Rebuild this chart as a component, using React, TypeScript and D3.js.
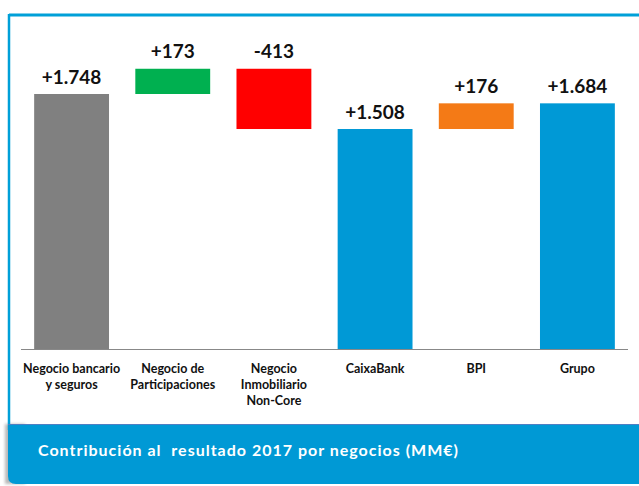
import React from "react";
import * as d3 from "d3";

const categories = [
  ["Negocio bancario", "y seguros"],
  ["Negocio de", "Participaciones"],
  ["Negocio", "Inmobiliario", "Non-Core"],
  ["CaixaBank"],
  ["BPI"],
  ["Grupo"],
];
const starts = [0, 1748, 1921, 0, 1508, 0];
const ends = [1748, 1921, 1508, 1508, 1684, 1684];
const valueLabels = ["+1.748", "+173", "-413", "+1.508", "+176", "+1.684"];
const colors = ["#808080", "#00B050", "#FF0000", "#0099D6", "#F47A16", "#0099D6"];
const footerTitle = "Contribución al  resultado 2017 por negocios (MM€)";

const W = 639;
const H = 486;
const FONT = "Lato, 'Open Sans', sans-serif";

export default function App() {
  const x = d3
    .scaleBand<number>()
    .domain(d3.range(categories.length))
    .range([21, 628])
    .paddingInner(0.26)
    .paddingOuter(0.13);
  const y = d3.scaleLinear().domain([0, 1748]).range([349, 94]);

  return (
    <div style={{ position: "absolute", left: 0, top: 0 }}>
      <svg width={W} height={H} style={{ display: "block" }}>
        <defs>
          <filter id="sh" x="-20%" y="-20%" width="140%" height="140%">
            <feGaussianBlur stdDeviation="1.5" />
          </filter>
        </defs>
        <rect width={W} height={H} fill="#ffffff" />
        {/* frame */}
        <rect x={5} y={424} width={20} height={60} fill="#b8b8b8" filter="url(#sh)" />
        <line x1={9} x2={W} y1={15} y2={15} stroke="#00A0D8" strokeWidth={3} />
        <line x1={9} x2={9} y1={14} y2={430} stroke="#00A0D8" strokeWidth={2.5} />
        <path
          d={`M8,424 H${W} V484 H16 Q8,484 8,476 Z`}
          fill="#0099D5"
        />
        <line x1={8} x2={W} y1={424.5} y2={424.5} stroke="#4F7FC3" strokeWidth={1} />
        <text
          x={38}
          y={456}
          fill="#ffffff"
          fontFamily={FONT}
          fontWeight={700}
          fontSize={16}
          letterSpacing={1}
          style={{ whiteSpace: "pre" }}
        >
          {footerTitle}
        </text>
        {/* bars */}
        {categories.map((c, i) => {
          const top = y(Math.max(starts[i], ends[i]));
          const bot = y(Math.min(starts[i], ends[i]));
          const cx = (x(i) as number) + x.bandwidth() / 2;
          return (
            <g key={i}>
              <rect x={x(i)} y={top} width={x.bandwidth()} height={bot - top} fill={colors[i]} />
              <text
                x={cx}
                y={top - 10.5}
                textAnchor="middle"
                fontFamily={FONT}
                fontWeight={700}
                fontSize={19}
                fill="#111"
              >
                {valueLabels[i]}
              </text>
              {c.map((line, j) => (
                <text
                  key={j}
                  x={cx}
                  y={373 + j * 16}
                  textAnchor="middle"
                  fontFamily={FONT}
                  fontWeight={700}
                  fontSize={12.5}
                  fill="#111"
                >
                  {line}
                </text>
              ))}
            </g>
          );
        })}
        <line x1={21} x2={628} y1={349.5} y2={349.5} stroke="#888" strokeWidth={1.2} />
      </svg>
    </div>
  );
}
